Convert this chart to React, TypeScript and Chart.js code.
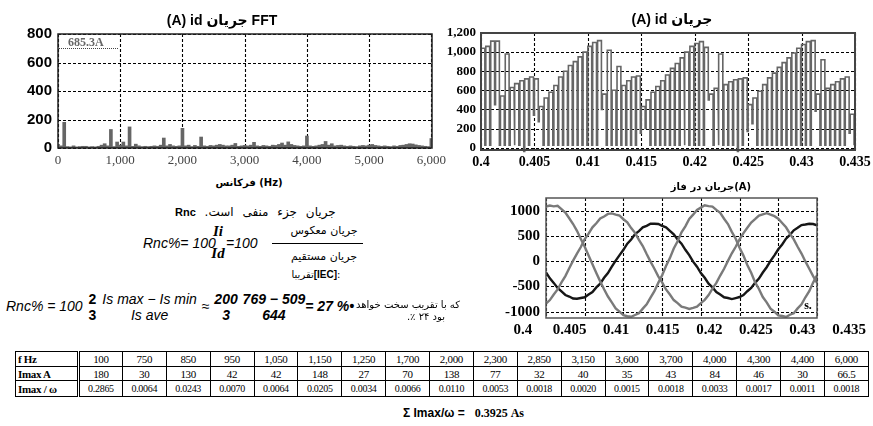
import React, { useEffect, useRef } from "react";
import { Chart, registerables } from "chart.js";

Chart.register(...registerables);

// ---------------- DATA ----------------
// FFT of id (A)
const fftFreq = [
  0, 50, 100, 150, 200, 250, 300, 350, 400, 450, 500, 550, 600, 650, 700, 750, 800, 850, 900, 950,
  1000, 1050, 1100, 1150, 1200, 1250, 1300, 1350, 1400, 1450, 1500, 1550, 1600, 1650, 1700, 1750, 1800, 1850, 1900, 1950,
  2000, 2050, 2100, 2150, 2200, 2250, 2300, 2350, 2400, 2450, 2500, 2550, 2600, 2650, 2700, 2750, 2800, 2850, 2900, 2950,
  3000, 3050, 3100, 3150, 3200, 3250, 3300, 3350, 3400, 3450, 3500, 3550, 3600, 3650, 3700, 3750, 3800, 3850, 3900, 3950,
  4000, 4050, 4100, 4150, 4200, 4250, 4300, 4350, 4400, 4450, 4500, 4550, 4600, 4650, 4700, 4750, 4800, 4850, 4900, 4950,
  5000, 5050, 5100, 5150, 5200, 5250, 5300, 5350, 5400, 5450, 5500, 5550, 5600, 5650, 5700, 5750, 5800, 5850, 5900, 5950,
  6000,
];
const fftAmp = [
  25, 15, 180, 10, 8, 15, 8, 10, 12, 12, 8, 10, 8, 12, 20, 30, 15, 130, 10, 42,
  20, 42, 15, 148, 12, 27, 15, 10, 12, 10, 12, 15, 12, 20, 70, 15, 25, 15, 12, 15,
  138, 15, 20, 10, 18, 12, 77, 15, 12, 18, 15, 20, 25, 20, 15, 15, 20, 32, 12, 15,
  18, 15, 20, 40, 15, 12, 18, 15, 12, 20, 18, 25, 35, 20, 43, 25, 18, 15, 12, 15,
  84, 15, 12, 15, 20, 25, 46, 20, 30, 15, 18, 20, 15, 12, 15, 12, 10, 15, 18, 15,
  20, 25, 18, 15, 12, 15, 12, 10, 15, 12, 18, 20, 25, 30, 28, 22, 18, 15, 12, 10,
  66.5,
];
const fftXTicks = [0, 1000, 2000, 3000, 4000, 5000, 6000];
const fftYTicks = [0, 200, 400, 600, 800];

// id (A): switching periods — start time, envelope level, level during the notch
const idEdgeT = [
  0.4, 0.40045, 0.40091, 0.40136, 0.40182, 0.40227, 0.40273, 0.40318, 0.40364, 0.40409, 0.40455,
  0.405, 0.40545, 0.40591, 0.40636, 0.40682, 0.40727, 0.40773, 0.40818, 0.40864, 0.40909, 0.40955,
  0.41, 0.41045, 0.41091, 0.41136, 0.41182, 0.41227, 0.41273, 0.41318, 0.41364, 0.41409, 0.41455,
  0.415, 0.41545, 0.41591, 0.41636, 0.41682, 0.41727, 0.41773, 0.41818, 0.41864, 0.41909, 0.41955,
  0.42, 0.42045, 0.42091, 0.42136, 0.42182, 0.42227, 0.42273, 0.42318, 0.42364, 0.42409, 0.42455,
  0.425, 0.42545, 0.42591, 0.42636, 0.42682, 0.42727, 0.42773, 0.42818, 0.42864, 0.42909, 0.42955,
  0.43, 0.43045, 0.43091, 0.43136, 0.43182, 0.43227, 0.43273, 0.43318, 0.43364, 0.43409, 0.43455,
];
const idTop = [
  1040, 1060, 1115, 1115, 540, 980, 630, 670, 700, 720, 740, 720, 430, 520, 580, 650, 740, 800, 860, 900, 950, 1000,
  1060, 1100, 1120, 560, 1020, 600, 850, 650, 700, 740, 750, 430, 500, 580, 640, 700, 760, 830, 880, 940, 1000, 1060,
  1090, 1110, 1050, 560, 620, 980, 660, 690, 710, 720, 730, 450, 520, 590, 660, 730, 780, 840, 890, 940, 990, 1040,
  1080, 1110, 1120, 560, 920, 620, 660, 690, 720, 740, 350,
];
const idLow = [
  25, 25, 450, 25, 25, 25, 25, 25, -40, 25, 340, 270, 25, 25, 25, 25, 25, 25, 25, 25, 25, 25,
  25, 25, 400, 25, 25, 25, 25, 25, 25, 25, 150, 200, 25, 25, 25, 25, 25, 25, 25, 25, 25, 25,
  25, 25, 500, 25, 25, 25, 25, 25, -40, 25, 170, 250, 25, 25, 25, 25, 25, 25, 25, 25, 25, 25,
  25, 25, 380, 25, 25, 25, 25, 25, 25, 150, 25,
];
const ID_ON = 0.00036;
const timeTicks = [0.4, 0.405, 0.41, 0.415, 0.42, 0.425, 0.43, 0.435];
const idYTicks = [0, 200, 400, 600, 800, 1000, 1200];

// phase currents (A)
const phaseT = [
  0.4, 0.4005, 0.401, 0.4015, 0.402, 0.4025, 0.403, 0.4035, 0.404, 0.4045,
  0.405, 0.4055, 0.406, 0.4065, 0.407, 0.4075, 0.408, 0.4085, 0.409, 0.4095,
  0.41, 0.4105, 0.411, 0.4115, 0.412, 0.4125, 0.413, 0.4135, 0.414, 0.4145,
  0.415, 0.4155, 0.416, 0.4165, 0.417, 0.4175, 0.418, 0.4185, 0.419, 0.4195,
  0.42, 0.4205, 0.421, 0.4215, 0.422, 0.4225, 0.423, 0.4235, 0.424, 0.4245,
  0.425, 0.4255, 0.426, 0.4265, 0.427, 0.4275, 0.428, 0.4285, 0.429, 0.4295,
  0.43, 0.4305, 0.431, 0.4315, 0.432, 0.4325, 0.433, 0.4335, 0.434, 0.4345,
  0.435,
];
const phaseA = [
  1080, 1100, 1085, 1095, 1030, 960, 850, 735, 600, 440,
  285, 110, -60, -235, -400, -555, -700, -815, -935, -1000,
  -1070, -1090, -1100, -1065, -1030, -940, -855, -720, -595, -430,
  -280, -95, 60, 250, 395, 570, 690, 835, 920, 1015,
  1060, 1105, 1090, 1080, 1015, 955, 840, 735, 580, 445,
  265, 110, -75, -230, -415, -550, -710, -815, -940, -1000,
  -1075, -1085, -1105, -1060, -1030, -935, -855, -715, -595, -425,
  -280,
];
const phaseB = [
  -840, -770, -660, -560, -420, -295, -140, 10, 150, 280,
  435, 545, 670, 750, 845, 885, 935, 945, 920, 900,
  830, 770, 655, 560, 420, 300, 140, -10, -150, -300,
  -420, -560, -660, -770, -830, -900, -920, -945, -925, -900,
  -830, -765, -670, -545, -430, -285, -150, 5, 155, 285,
  430, 555, 660, 765, 830, 900, 925, 950, 920, 890,
  840, 755, 670, 545, 430, 285, 150, -5, -150, -295,
  -430,
];
const phaseC = [
  -220, -340, -430, -530, -600, -670, -700, -740, -745, -730,
  -715, -660, -610, -520, -445, -330, -235, -110, 10, 120,
  225, 345, 430, 535, 595, 670, 700, 740, 740, 735,
  700, 670, 600, 530, 430, 345, 225, 120, -10, -110,
  -235, -330, -445, -520, -610, -660, -715, -730, -750, -730,
  -710, -670, -595, -530, -430, -345, -225, -120, 5, 115,
  235, 330, 445, 520, 610, 660, 715, 725, 740, 735,
  710,
];
const phaseYTicks = [-1000, -500, 0, 500, 1000];
// the printed time labels of this panel are spread wider than its frame
const PHASE_LABEL_MIN = 0.40247;
const PHASE_LABEL_MAX = 0.43156;

// table
const tableFreq = ["100", "750", "850", "950", "1,050", "1,150", "1,250", "1,700", "2,000", "2,300", "2,850", "3,150", "3,600", "3,700", "4,000", "4,300", "4,400", "6,000"];
const tableImax = ["180", "30", "130", "42", "42", "148", "27", "70", "138", "77", "32", "40", "35", "43", "84", "46", "30", "66.5"];
const tableRatio = ["0.2865", "0.0064", "0.0243", "0.0070", "0.0064", "0.0205", "0.0034", "0.0066", "0.0110", "0.0053", "0.0018", "0.0020", "0.0015", "0.0018", "0.0033", "0.0017", "0.0011", "0.0018"];

// ---------------- STYLE HELPERS ----------------
const SANS = '"Liberation Sans", Arial, "DejaVu Sans", sans-serif';
const SERIF = '"Liberation Serif", "Times New Roman", "DejaVu Serif", serif';
const FA = '"DejaVu Sans", "Liberation Sans", sans-serif';

const framePlugin = {
  id: "frame",
  afterDatasetsDraw(chart: any, _args: any, opts: any) {
    const { ctx, chartArea } = chart;
    ctx.save();
    ctx.strokeStyle = opts.color || "#333";
    ctx.lineWidth = opts.width || 1.5;
    ctx.strokeRect(chartArea.left, chartArea.top, chartArea.right - chartArea.left, chartArea.bottom - chartArea.top);
    ctx.restore();
  },
};

// dotted grid drawn at the tick values of the chart's own x / y scales
const dotGridPlugin = {
  id: "dotgrid",
  beforeDatasetsDraw(chart: any) {
    const { ctx, chartArea, scales } = chart;
    const { left, right, top, bottom } = chartArea;
    ctx.save();
    ctx.strokeStyle = "#000";
    ctx.lineWidth = 1.1;
    ctx.setLineDash([3, 2]);
    (scales.x.ticks || []).forEach((t: any) => {
      const px = Math.round(scales.x.getPixelForValue(t.value)) + 0.5;
      if (px < left - 0.6 || px > right + 0.6) return;
      ctx.beginPath();
      ctx.moveTo(px, top);
      ctx.lineTo(px, bottom);
      ctx.stroke();
    });
    (scales.y.ticks || []).forEach((t: any) => {
      const py = Math.round(scales.y.getPixelForValue(t.value)) + 0.5;
      if (py < top - 0.6 || py > bottom + 0.6) return;
      ctx.beginPath();
      ctx.moveTo(left, py);
      ctx.lineTo(right, py);
      ctx.stroke();
    });
    ctx.restore();
  },
};

const setTicks = (vals: number[]) => (s: any) => {
  s.ticks = vals.map((v) => ({ value: v }));
};
const fixW = (w: number) => (s: any) => {
  s.width = w;
  s.paddingTop = 0;
  s.paddingBottom = 0;
};
const fixH = (h: number) => (s: any) => {
  s.height = h;
  s.paddingLeft = 0;
  s.paddingRight = 0;
};
const GRID = { display: false, drawTicks: false };
const BORDER = { display: false };
const commaFmt = (v: any) => Number(v).toLocaleString("en-US");

function ChartCanvas(props: { left: number; top: number; width: number; height: number; make: () => any }) {
  const ref = useRef<HTMLCanvasElement>(null);
  useEffect(() => {
    const chart = new Chart(ref.current as HTMLCanvasElement, props.make());
    return () => chart.destroy();
  }, []);
  return (
    <canvas
      ref={ref}
      width={props.width}
      height={props.height}
      style={{ position: "absolute", left: props.left, top: props.top, width: props.width, height: props.height }}
    />
  );
}

// ---------------- CHART CONFIGS ----------------
const makeFFT = () => ({
  type: "bar",
  data: {
    datasets: [
      {
        data: fftFreq.map((f, i) => ({ x: f, y: fftAmp[i] })),
        backgroundColor: "#666666",
        barThickness: 3,
      },
    ],
  },
  plugins: [dotGridPlugin, framePlugin],
  options: {
    animation: false,
    responsive: false,
    layout: { padding: { left: 0, right: 28, top: 34, bottom: 0 } },
    plugins: { legend: { display: false }, tooltip: { enabled: false }, frame: { color: "#222", width: 1.5 } },
    scales: {
      x: {
        type: "linear",
        min: 0,
        max: 6010,
        offset: false,
        afterBuildTicks: setTicks(fftXTicks),
        afterFit: fixH(27),
        grid: { ...GRID, offset: false },
        border: BORDER,
        ticks: { callback: commaFmt, color: "#444", padding: 5, maxRotation: 0, autoSkip: false, font: { family: SERIF, size: 13 } },
      },
      y: {
        min: 0,
        max: 800,
        afterBuildTicks: setTicks(fftYTicks),
        afterFit: fixW(58),
        grid: GRID,
        border: BORDER,
        ticks: { callback: (v: any) => String(v), color: "#000", padding: 6, font: { family: SANS, size: 15, weight: "bold" } },
      },
    },
  },
});

const makeId = () => {
  const pts: { x: number; y: number }[] = [];
  let prev = idLow[idLow.length - 1];
  idEdgeT.forEach((t, k) => {
    pts.push({ x: t, y: prev }, { x: t, y: idTop[k] }, { x: t + ID_ON, y: idTop[k] }, { x: t + ID_ON, y: idLow[k] });
    prev = idLow[k];
  });
  return {
    type: "line",
    data: {
      datasets: [{ data: pts, borderColor: "#666666", borderWidth: 1.6, pointRadius: 0, tension: 0, clip: 4 }],
    },
    plugins: [dotGridPlugin, framePlugin],
    options: {
      animation: false,
      responsive: false,
      layout: { padding: { left: 0, right: 18, top: 33, bottom: 0 } },
      plugins: { legend: { display: false }, tooltip: { enabled: false }, frame: { color: "#444", width: 2 } },
      scales: {
        x: {
          type: "linear",
          min: 0.4,
          max: 0.435,
          afterBuildTicks: setTicks(timeTicks),
          afterFit: fixH(25),
          grid: GRID,
          border: BORDER,
          ticks: { callback: (v: any) => String(v), color: "#000", padding: 4, maxRotation: 0, autoSkip: false, font: { family: SERIF, size: 14, weight: "bold" } },
        },
        y: {
          min: -25,
          max: 1200,
          afterBuildTicks: setTicks(idYTicks),
          afterFit: fixW(41),
          grid: GRID,
          border: BORDER,
          ticks: { callback: commaFmt, color: "#000", padding: 5, font: { family: SERIF, size: 13, weight: "bold" } },
        },
      },
    },
  };
};

const makePhase = () => ({
  type: "line",
  data: {
    datasets: [
      { data: phaseT.map((t, i) => ({ x: t, y: phaseA[i] })), borderColor: "#7a7a7a", borderWidth: 2.4, pointRadius: 0 },
      { data: phaseT.map((t, i) => ({ x: t, y: phaseB[i] })), borderColor: "#7a7a7a", borderWidth: 2.4, pointRadius: 0 },
      { data: phaseT.map((t, i) => ({ x: t, y: phaseC[i] })), borderColor: "#161616", borderWidth: 2.4, pointRadius: 0 },
    ],
  },
  plugins: [dotGridPlugin, framePlugin],
  options: {
    animation: false,
    responsive: false,
    layout: { padding: { left: 0, right: 56, top: 8, bottom: 0 } },
    plugins: { legend: { display: false }, tooltip: { enabled: false }, frame: { color: "#555", width: 1.5 } },
    scales: {
      x: {
        type: "linear",
        min: 0.4,
        max: 0.435,
        afterBuildTicks: setTicks(timeTicks),
        afterFit: fixH(0),
        grid: GRID,
        border: BORDER,
        ticks: { display: false },
      },
      xLabels: {
        type: "linear",
        position: "bottom",
        min: PHASE_LABEL_MIN,
        max: PHASE_LABEL_MAX,
        afterBuildTicks: setTicks(timeTicks),
        afterFit: fixH(22),
        grid: GRID,
        border: BORDER,
        ticks: { callback: (v: any) => String(v), color: "#000", padding: 3, maxRotation: 0, autoSkip: false, font: { family: SERIF, size: 15, weight: "bold" } },
      },
      y: {
        min: -1125,
        max: 1250,
        afterBuildTicks: setTicks(phaseYTicks),
        afterFit: fixW(56),
        grid: GRID,
        border: BORDER,
        ticks: { callback: (v: any) => String(v), color: "#000", padding: 6, font: { family: SERIF, size: 15, weight: "bold" } },
      },
    },
  },
});

// ---------------- TEXT HELPERS ----------------
function T(props: { x: number; y: number; a?: "c" | "l" | "r"; style?: React.CSSProperties; children: React.ReactNode; dir?: string }) {
  const tx = props.a === "l" ? "0" : props.a === "r" ? "-100%" : "-50%";
  return (
    <div
      dir={props.dir}
      style={{
        position: "absolute",
        left: props.x,
        top: props.y,
        transform: `translate(${tx}, -50%)`,
        whiteSpace: "nowrap",
        lineHeight: 1,
        ...props.style,
      }}
    >
      {props.children}
    </div>
  );
}

function Frac(props: { n: React.ReactNode; d: React.ReactNode; lh: number; style?: React.CSSProperties }) {
  return (
    <span style={{ display: "inline-flex", flexDirection: "column", alignItems: "center", verticalAlign: "middle", ...props.style }}>
      <span style={{ lineHeight: props.lh + "px" }}>{props.n}</span>
      <span style={{ lineHeight: props.lh + "px" }}>{props.d}</span>
    </span>
  );
}

const cellBase: React.CSSProperties = {
  border: "1px solid #000",
  padding: 0,
  textAlign: "center",
  fontFamily: SERIF,
  fontSize: 11,
  letterSpacing: -0.3,
};

export default function App() {
  const headStyle: React.CSSProperties = { ...cellBase, textAlign: "left", fontWeight: "bold", paddingLeft: 2, borderRight: "3px double #000" };
  return (
    <div style={{ position: "absolute", left: 0, top: 0, width: 873, height: 426, background: "#fff", overflow: "hidden", color: "#000" }}>
      {/* charts */}
      <ChartCanvas left={0} top={0} width={460} height={175} make={makeFFT} />
      <ChartCanvas left={440} top={0} width={433} height={175} make={makeId} />
      <ChartCanvas left={490} top={190} width={383} height={150} make={makePhase} />

      {/* chart titles */}
      <T x={222} y={20} style={{ fontFamily: SANS, fontWeight: "bold", fontSize: 14 }}>(A) id جریان  FFT</T>
      <T x={249} y={183} style={{ fontFamily: FA, fontWeight: "bold", fontSize: 10 }}>فرکانس (Hz)</T>
      <T x={672} y={19} style={{ fontFamily: SANS, fontWeight: "bold", fontSize: 14 }}>(A) id جریان</T>
      <T x={711} y={187} style={{ fontFamily: FA, fontWeight: "bold", fontSize: 10 }}>جریان در فاز(A)</T>
      <T x={808} y={305} style={{ fontFamily: SERIF, fontWeight: "bold", fontSize: 12 }}>s.</T>

      {/* FFT annotation */}
      <div style={{ position: "absolute", left: 59, top: 35, width: 59, height: 13, borderBottom: "1px dotted #444" }} />
      <T x={68} y={42} a="l" style={{ fontFamily: SERIF, fontWeight: "bold", fontSize: 12, color: "#666" }}>685.3A</T>

      {/* formulas */}
      <T x={175} y={212} a="l" style={{ fontFamily: FA, fontSize: 12, wordSpacing: 5 }}>
        <b style={{ fontFamily: SANS, fontSize: 11 }}>Rnc</b> <span dir="rtl">جریان جزء منفی است.</span>
      </T>
      <T x={143} y={243} a="l" style={{ fontFamily: SANS, fontStyle: "italic", fontSize: 14 }}>Rnc%= 100</T>
      <T x={218} y={242} a="c" style={{ fontFamily: SERIF, fontStyle: "italic", fontWeight: "bold", fontSize: 15 }}>
        <Frac n="Ii" d="Id" lh={22} />
      </T>
      <T x={226} y={243} a="l" style={{ fontFamily: SANS, fontStyle: "italic", fontSize: 14 }}>=100</T>
      <T x={324} y={230} style={{ fontFamily: FA, fontSize: 11 }} dir="rtl">جریان معکوس</T>
      <div style={{ position: "absolute", left: 272, top: 243, width: 91, height: 0, borderTop: "1px solid #000" }} />
      <T x={324} y={256} style={{ fontFamily: FA, fontSize: 11 }} dir="rtl">جریان مستقیم</T>
      <T x={316} y={275} style={{ fontFamily: FA, fontSize: 10 }}>
        تقریبا<b style={{ fontFamily: SANS }}>[IEC]</b>:
      </T>

      <T x={6} y={307} a="l" style={{ fontFamily: SANS, fontStyle: "italic", fontSize: 14 }}>
        <span>Rnc% = 100 </span>
        <Frac n="2" d="3" lh={16} style={{ fontWeight: "bold", fontStyle: "normal", margin: "0 6px 0 2px" }} />
        <Frac n={"Is max \u2212 Is min"} d="Is ave" lh={16} />
        <span style={{ margin: "0 1px" }}> ≈ </span>
        <Frac n="200" d="3" lh={16} style={{ fontWeight: "bold", marginRight: 1 }} />
        <span> </span>
        <Frac n={"769 \u2212 509"} d="644" lh={16} style={{ fontWeight: "bold" }} />
        <span style={{ fontWeight: "bold" }}>= 27 %•</span>
      </T>
      <T x={460} y={305} a="r" style={{ fontFamily: FA, fontSize: 10 }} dir="rtl">که با تقریب سخت خواهد</T>
      <T x={445} y={317} a="r" style={{ fontFamily: FA, fontSize: 10 }} dir="rtl">بود ۲۴ ٪.</T>

      {/* table */}
      <table
        style={{
          position: "absolute",
          left: 15,
          top: 351,
          width: 854,
          borderCollapse: "collapse",
          tableLayout: "fixed",
          border: "1.5px solid #000",
        }}
      >
        <colgroup>
          <col style={{ width: 63 }} />
          {tableFreq.map((_, i) => (
            <col key={i} />
          ))}
        </colgroup>
        <tbody>
          <tr style={{ height: 15 }}>
            <td style={headStyle}>f Hz</td>
            {tableFreq.map((v, i) => (
              <td key={i} style={cellBase}>{v}</td>
            ))}
          </tr>
          <tr style={{ height: 14 }}>
            <td style={headStyle}>Imax A</td>
            {tableImax.map((v, i) => (
              <td key={i} style={cellBase}>{v}</td>
            ))}
          </tr>
          <tr style={{ height: 16 }}>
            <td style={headStyle}>Imax / ω</td>
            {tableRatio.map((v, i) => (
              <td key={i} style={{ ...cellBase, fontSize: 10 }}>{v}</td>
            ))}
          </tr>
        </tbody>
      </table>
      <T x={403} y={413} a="l" style={{ fontFamily: SANS, fontWeight: "bold", fontSize: 12 }}>
        Σ Imax/ω =&nbsp;&nbsp;&nbsp;<span style={{ fontFamily: SERIF }}>0.3925 As</span>
      </T>
    </div>
  );
}
